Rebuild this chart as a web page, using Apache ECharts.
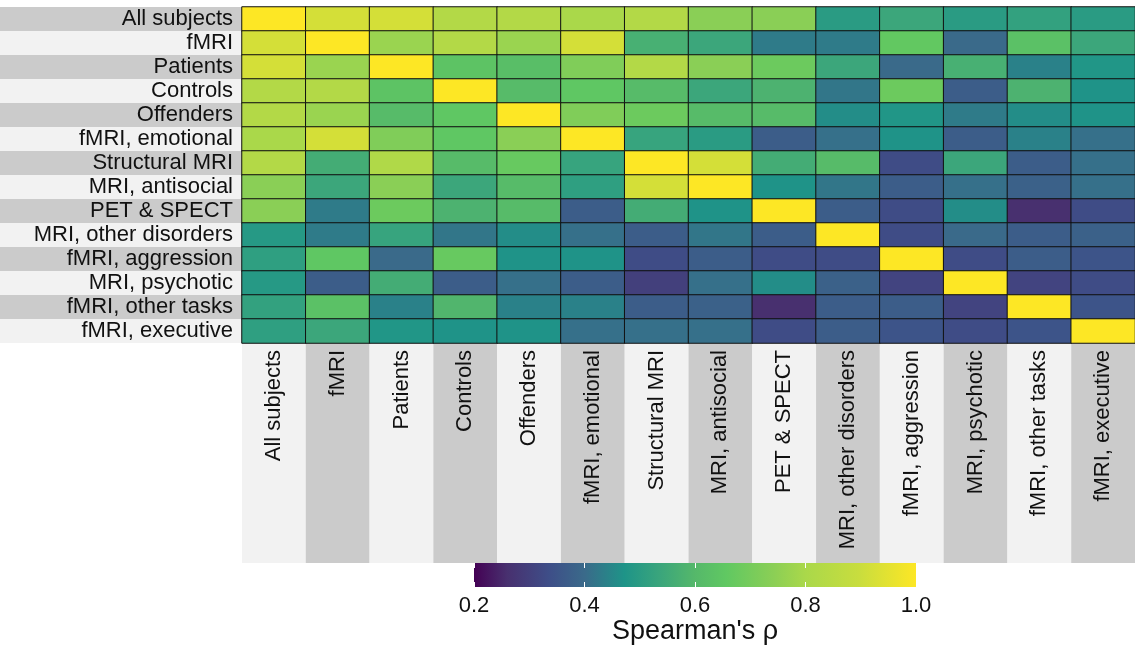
<!DOCTYPE html>
<html>
<head>
<meta charset="utf-8">
<script src="https://cdn.jsdelivr.net/npm/echarts@6/dist/echarts.min.js"></script>
<style>
  html, body { margin: 0; padding: 0; background: #ffffff; }
  #chart { width: 1135px; height: 648px; }
</style>
</head>
<body>
<div id="chart"></div>
<script>
// Study subsets compared pairwise (rows top to bottom, columns left to right)
const groups = [
  'All subjects', 'fMRI', 'Patients', 'Controls', 'Offenders',
  'fMRI, emotional', 'Structural MRI', 'MRI, antisocial', 'PET & SPECT',
  'MRI, other disorders', 'fMRI, aggression', 'MRI, psychotic',
  'fMRI, other tasks', 'fMRI, executive'
];

// Spearman's rho between subsets, one array per row
const rhoAllSubjects   = [1.00, 0.92, 0.92, 0.83, 0.83, 0.80, 0.83, 0.74, 0.74, 0.50, 0.54, 0.50, 0.52, 0.50];
const rhoFmri          = [0.92, 1.00, 0.77, 0.83, 0.77, 0.92, 0.57, 0.54, 0.43, 0.43, 0.66, 0.40, 0.63, 0.54];
const rhoPatients      = [0.92, 0.77, 1.00, 0.64, 0.62, 0.72, 0.83, 0.74, 0.68, 0.54, 0.40, 0.57, 0.44, 0.48];
const rhoControls      = [0.83, 0.83, 0.64, 1.00, 0.61, 0.65, 0.61, 0.54, 0.58, 0.42, 0.68, 0.37, 0.58, 0.47];
const rhoOffenders     = [0.83, 0.77, 0.61, 0.65, 1.00, 0.72, 0.68, 0.61, 0.61, 0.46, 0.48, 0.43, 0.46, 0.47];
const rhoFmriEmotional = [0.80, 0.92, 0.72, 0.65, 0.74, 1.00, 0.53, 0.50, 0.37, 0.41, 0.47, 0.37, 0.44, 0.41];
const rhoStructuralMri = [0.83, 0.56, 0.82, 0.61, 0.67, 0.53, 1.00, 0.92, 0.56, 0.61, 0.33, 0.54, 0.37, 0.41];
const rhoMriAntisocial = [0.74, 0.54, 0.74, 0.54, 0.61, 0.51, 0.92, 1.00, 0.47, 0.42, 0.37, 0.41, 0.38, 0.41];
const rhoPetSpect      = [0.74, 0.43, 0.68, 0.58, 0.61, 0.37, 0.56, 0.47, 1.00, 0.37, 0.33, 0.46, 0.26, 0.33];
const rhoMriOther      = [0.49, 0.43, 0.53, 0.42, 0.46, 0.41, 0.37, 0.42, 0.37, 1.00, 0.33, 0.40, 0.37, 0.38];
const rhoFmriAggr      = [0.51, 0.65, 0.40, 0.67, 0.47, 0.47, 0.33, 0.37, 0.33, 0.33, 1.00, 0.33, 0.37, 0.35];
const rhoMriPsychotic  = [0.49, 0.37, 0.56, 0.37, 0.41, 0.37, 0.30, 0.41, 0.46, 0.38, 0.31, 1.00, 0.31, 0.33];
const rhoFmriOther     = [0.52, 0.63, 0.44, 0.59, 0.44, 0.44, 0.37, 0.38, 0.26, 0.37, 0.37, 0.31, 1.00, 0.35];
const rhoFmriExecutive = [0.51, 0.54, 0.48, 0.47, 0.47, 0.41, 0.41, 0.41, 0.33, 0.37, 0.35, 0.33, 0.35, 1.00];

const rhoRows = [
  rhoAllSubjects, rhoFmri, rhoPatients, rhoControls, rhoOffenders,
  rhoFmriEmotional, rhoStructuralMri, rhoMriAntisocial, rhoPetSpect,
  rhoMriOther, rhoFmriAggr, rhoMriPsychotic, rhoFmriOther, rhoFmriExecutive
];

// Colour scale range and colour-bar ticks
const rhoMin = 0.2;
const rhoMax = 1.0;
const rhoTickStep = 0.2;

// viridis-style ramp: [position along the scale (0..1), colour]
const rampStops = [
  [0.000, '#440154'], [0.075, '#48306f'], [0.170, '#3e4e88'], [0.250, '#3a6a8a'],
  [0.340, '#1e9488'], [0.420, '#3aa57c'], [0.500, '#55b86a'], [0.570, '#60c862'],
  [0.680, '#8ccf55'], [0.750, '#aad84a'], [0.870, '#c8dd3e'], [1.000, '#fde725']
];

const FONT = '"Liberation Sans", Arial, sans-serif';
const TEXT = '#111111';
const BAND_DARK = '#cbcbcb';
const BAND_LIGHT = '#f2f2f2';

// evenly sampled colour list for the visual map, built from the ramp stops
function hexToRgb(h) {
  return [1, 3, 5].map(i => parseInt(h.slice(i, i + 2), 16));
}
function rampColor(p) {
  for (let i = 1; i < rampStops.length; i++) {
    const [p1, c1] = rampStops[i];
    const [p0, c0] = rampStops[i - 1];
    if (p <= p1 + 1e-9) {
      const f = (p - p0) / (p1 - p0);
      const a = hexToRgb(c0), b = hexToRgb(c1);
      const rgb = a.map((v, k) => Math.round(v + (b[k] - v) * f));
      return 'rgb(' + rgb.join(',') + ')';
    }
  }
  return rampStops[rampStops.length - 1][1];
}
const rampColors = [];
for (let i = 0; i <= 200; i++) rampColors.push(rampColor(i / 200));

// heatmap cells: [column, row, rho]
const cells = [];
rhoRows.forEach((row, r) => row.forEach((v, c) => cells.push([c, r, v])));

// category labels with alternating band backgrounds
const rowLabels = groups.map((g, i) => ({
  value: g,
  textStyle: { backgroundColor: i % 2 === 0 ? BAND_DARK : BAND_LIGHT }
}));
const colLabels = groups.map((g, i) => ({
  value: g,
  textStyle: { backgroundColor: i % 2 === 0 ? BAND_LIGHT : BAND_DARK }
}));

const chart = echarts.init(document.getElementById('chart'), null, { renderer: 'canvas' });

const gradientStops = rampStops.map(([p, c]) => ({ offset: p, color: c }));

chart.setOption({
  animation: false,
  backgroundColor: '#ffffff',
  textStyle: { fontFamily: FONT },
  grid: [
    { left: 242, right: 0, top: 7, height: 336, containLabel: false, outerBoundsMode: 'none' },
    { left: 474, width: 442, top: 563, height: 24, containLabel: false, outerBoundsMode: 'none' }
  ],
  xAxis: [
    {
      type: 'category', gridIndex: 0, data: colLabels,
      position: 'bottom',
      axisLine: { show: false }, axisTick: { show: false }, splitLine: { show: false },
      axisLabel: {
        interval: 0, rotate: 90, margin: 0,
        width: 213, height: 63.8, align: 'right', verticalAlign: 'middle',
        padding: [0, 7, 0, 0],
        fontSize: 22, color: TEXT, fontFamily: FONT, overflow: 'none'
      }
    },
    {
      type: 'value', gridIndex: 1, min: rhoMin, max: rhoMax, interval: rhoTickStep,
      position: 'bottom', z: 10,
      axisLine: { show: false }, splitLine: { show: false },
      axisTick: { show: true, inside: true, length: 5, lineStyle: { color: '#ffffff', width: 1 } },
      axisLabel: {
        fontSize: 22, color: TEXT, fontFamily: FONT, margin: 8,
        formatter: v => v.toFixed(1)
      },
      name: "Spearman's \u03c1", nameLocation: 'middle', nameGap: 26,
      nameTextStyle: { fontSize: 27, color: TEXT, fontFamily: FONT, verticalAlign: 'top' }
    },
    {
      type: 'value', gridIndex: 1, min: rhoMin, max: rhoMax, interval: rhoTickStep,
      position: 'top', z: 10,
      axisLine: { show: false }, splitLine: { show: false },
      axisTick: { show: true, inside: true, length: 5, lineStyle: { color: '#ffffff', width: 1 } },
      axisLabel: { show: false }
    }
  ],
  yAxis: [
    {
      type: 'category', gridIndex: 0, data: rowLabels, inverse: true,
      axisLine: { show: false }, axisTick: { show: false }, splitLine: { show: false },
      axisLabel: {
        interval: 0, margin: 0,
        width: 233, height: 24, align: 'right', verticalAlign: 'middle',
        padding: [0, 9, 0, 0],
        fontSize: 22, color: TEXT, fontFamily: FONT, overflow: 'none'
      }
    },
    { type: 'value', gridIndex: 1, min: 0, max: 1, show: false }
  ],
  visualMap: {
    type: 'continuous', show: false, seriesIndex: 0,
    min: rhoMin, max: rhoMax,
    inRange: { color: rampColors }
  },
  series: [
    {
      type: 'heatmap', xAxisIndex: 0, yAxisIndex: 0,
      data: cells,
      silent: true,
      itemStyle: { borderColor: '#111111', borderWidth: 1 },
      emphasis: { disabled: true }
    },
    {
      // colour bar spanning the rho scale
      type: 'custom', xAxisIndex: 1, yAxisIndex: 1, silent: true, z: 2,
      data: [[rhoMin, rhoMax]],
      renderItem: function (params, api) {
        const p0 = api.coord([api.value(0), 0]);
        const p1 = api.coord([api.value(1), 1]);
        return {
          type: 'rect',
          shape: { x: p0[0], y: p1[1], width: p1[0] - p0[0], height: p0[1] - p1[1] },
          style: { fill: new echarts.graphic.LinearGradient(0, 0, 1, 0, gradientStops) }
        };
      }
    }
  ]
});
</script>
</body>
</html>
